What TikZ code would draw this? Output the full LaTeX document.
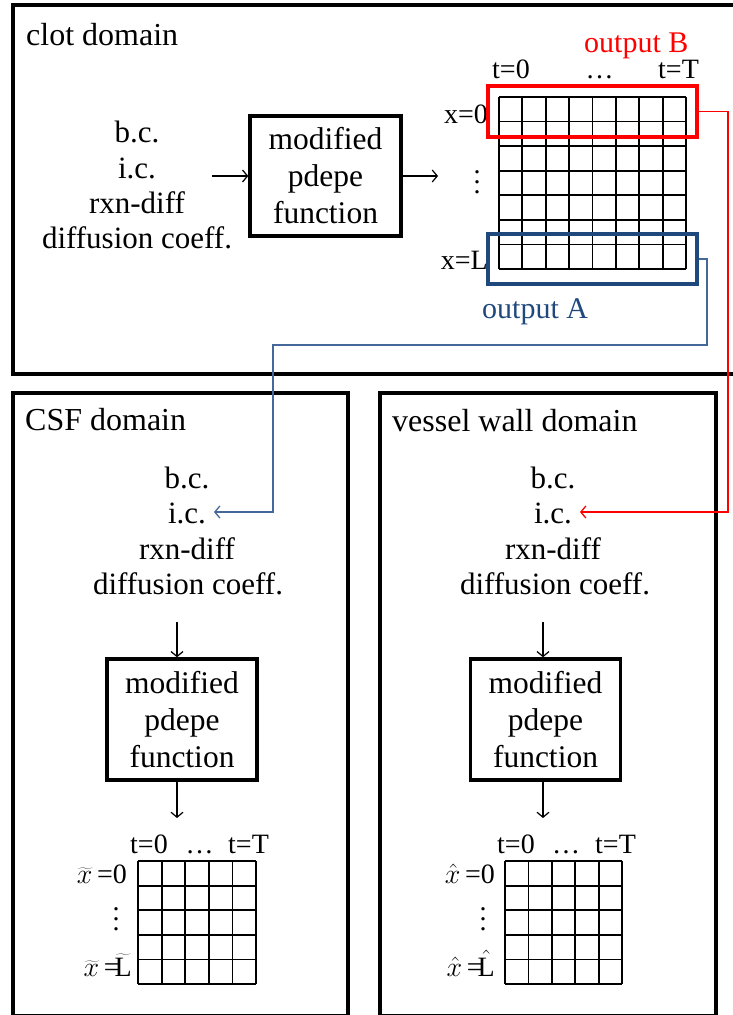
\RequirePackage{fix-cm}
\documentclass[tikz,border=0pt]{standalone}
\usepackage{fontspec}
\setmainfont{Liberation Serif}
\usetikzlibrary{arrows.meta}
\definecolor{boxblue}{HTML}{1F497D}
\definecolor{linkblue}{HTML}{44689A}
\definecolor{boxred}{HTML}{FF0000}
% vertical ellipsis with wider spacing than \vdots
\newcommand\tallvdots{\vbox{\baselineskip=10pt\lineskiplimit=0pt\hbox{.}\hbox{.}\hbox{.}}}
\begin{document}
\begin{tikzpicture}[x=1pt,y=-1pt,
  domframe/.style={draw,line width=3.6pt},
  pdbox/.style={draw,line width=3.4pt,minimum width=150pt,minimum height=120pt,
    align=center,inner sep=0pt,font=\fontsize{31.5}{37}\selectfont},
  txt/.style={inner sep=0pt,anchor=base,font=\fontsize{31}{35.5}\selectfont},
  title/.style={inner sep=0pt,anchor=base west,font=\fontsize{32}{36}\selectfont},
  lab/.style={inner sep=0pt,font=\fontsize{28}{30}\selectfont},
  outbox/.style={draw,line width=3.4pt,minimum width=209pt,inner sep=0pt},
  gridline/.style={line width=1.8pt},
  flow/.style={line width=1.2pt,-{Straight Barb[length=5pt,width=12pt]}},
  link/.style={line width=1.3pt,-{Straight Barb[length=5pt,width=12pt]}}]
\useasboundingbox (0,0) rectangle (733,1015);

% ---------------- domain frames ----------------
\draw[domframe] (13,5) rectangle (745,374);
\draw[domframe] (13,393) rectangle (348,1016);
\draw[domframe] (380,393) rectangle (716,1016);

\node[title] (tclot) at (26,45) {clot domain};
\node[title] (tcsf) at (25,430) {CSF domain};
\node[title] (tvw) at (392,431) {vessel wall domain};

% ---------------- clot domain ----------------
\node[txt] (cbc)  at (137,142) {b.c.};
\node[txt] (cic)  at (137,178) {i.c.};
\node[txt] (crxn) at (137,213) {rxn-diff};
\node[txt] (cdif) at (137,248) {diffusion coeff.};
\coordinate (cin) at (212,176);
\node[pdbox,minimum width=151pt] (cpd) at (325.5,176) {modified\\pdepe\\function};
\coordinate (cout) at (438,176);
\draw[flow] (cin) -- (cpd.west);
\draw[flow] (cpd.east) -- (cout);

% solution grid, 8 time steps by 7 space steps
\foreach \i in {0,...,8}
  \draw[gridline] (499+\i*23.375,97) -- ++(0,172);
\foreach \j in {0,...,7}
  \draw[gridline] (499,97+\j*24.571) -- ++(187,0);

\node[lab,anchor=base west] (ct0) at (492,78) {t=0};
\node[lab,anchor=base] (cdots) at (599.5,78) {\ldots};
\node[lab,anchor=base west] (ctT) at (658,78) {t=T};
\node[lab,anchor=base east] (cx0) at (488,123) {x=0};
\node[lab] (cvd) at (477,182) {\tallvdots};
\node[lab,anchor=base east] (cxL) at (488,269) {x=L};

\node[outbox,draw=boxred,minimum height=51pt] (outB) at (592.5,111.5) {};
\node[outbox,draw=boxblue,minimum height=50pt] (outA) at (592.5,259) {};
\node[lab,anchor=base west,text=boxred,font=\fontsize{30}{32}\selectfont] (lB) at (584,52) {output B};
\node[lab,anchor=base west,text=boxblue,font=\fontsize{30}{32}\selectfont] (lA) at (482,318) {output A};

% ---------------- CSF domain ----------------
\node[txt] (sbc)  at (187,488) {b.c.};
\node[txt] (sic)  at (187,523) {i.c.};
\node[txt] (srxn) at (187,559) {rxn-diff};
\node[txt] (sdif) at (188,594) {diffusion coeff.};
\coordinate (csfin) at (214,512);
\coordinate (sa1) at (177,622);
\coordinate (sa2) at (177,818);
\node[pdbox,minimum height=121pt] (spd) at (182,719.5) {modified\\pdepe\\function};
\draw[flow] (sa1) -- (sa1 |- spd.north);
\draw[flow] (sa1 |- spd.south) -- (sa2);

\foreach \i in {0,...,5}
  \draw[gridline] (138+\i*23.6,861) -- ++(0,123);
\foreach \j in {0,...,5}
  \draw[gridline] (138,861+\j*24.6) -- ++(118,0);

\node[lab,anchor=base west] (st0) at (130,853) {t=0};
\node[lab,anchor=base] (sdots) at (199.5,853) {\ldots};
\node[lab,anchor=base west] (stT) at (228,853) {t=T};
\node[lab,anchor=base east] (sx0) at (127,883) {$\widetilde{x}$\,=0};
\node[lab] (svd) at (116,919) {\tallvdots};
\node[lab,anchor=base east] (sxL) at (132,976) {$\widetilde{x}$\,=\kern-5pt$\widetilde{\mbox{L}}$};

% ---------------- vessel wall domain ----------------
\node[txt] (vbc)  at (553,488) {b.c.};
\node[txt] (vic)  at (553,523) {i.c.};
\node[txt] (vrxn) at (553,559) {rxn-diff};
\node[txt] (vdif) at (555,594) {diffusion coeff.};
\coordinate (vwin) at (580,512);
\coordinate (va1) at (543,622);
\coordinate (va2) at (543,818);
\node[pdbox,minimum height=121pt] (vpd) at (545.5,719.5) {modified\\pdepe\\function};
\draw[flow] (va1) -- (va1 |- vpd.north);
\draw[flow] (va1 |- vpd.south) -- (va2);

\foreach \i in {0,...,5}
  \draw[gridline] (505+\i*23.4,861) -- ++(0,123);
\foreach \j in {0,...,5}
  \draw[gridline] (505,861+\j*24.6) -- ++(117,0);

\node[lab,anchor=base west] (vt0) at (497,853) {t=0};
\node[lab,anchor=base] (vdots) at (566,853) {\ldots};
\node[lab,anchor=base west] (vtT) at (595,853) {t=T};
\node[lab,anchor=base east] (vx0) at (495,883) {$\hat{x}$\,=0};
\node[lab] (vvd) at (483,919) {\tallvdots};
\node[lab,anchor=base east] (vxL) at (495,976) {$\hat{x}$\,=\kern-5pt$\hat{\mbox{L}}$};

% ---------------- transfers between domains ----------------
\draw[link,boxred] (outB.east) -- (728,111.5) |- (vwin);
\draw[link,linkblue] (outA.east) -| (707,345) -| (273,512) -- (csfin);
\end{tikzpicture}
\end{document}
